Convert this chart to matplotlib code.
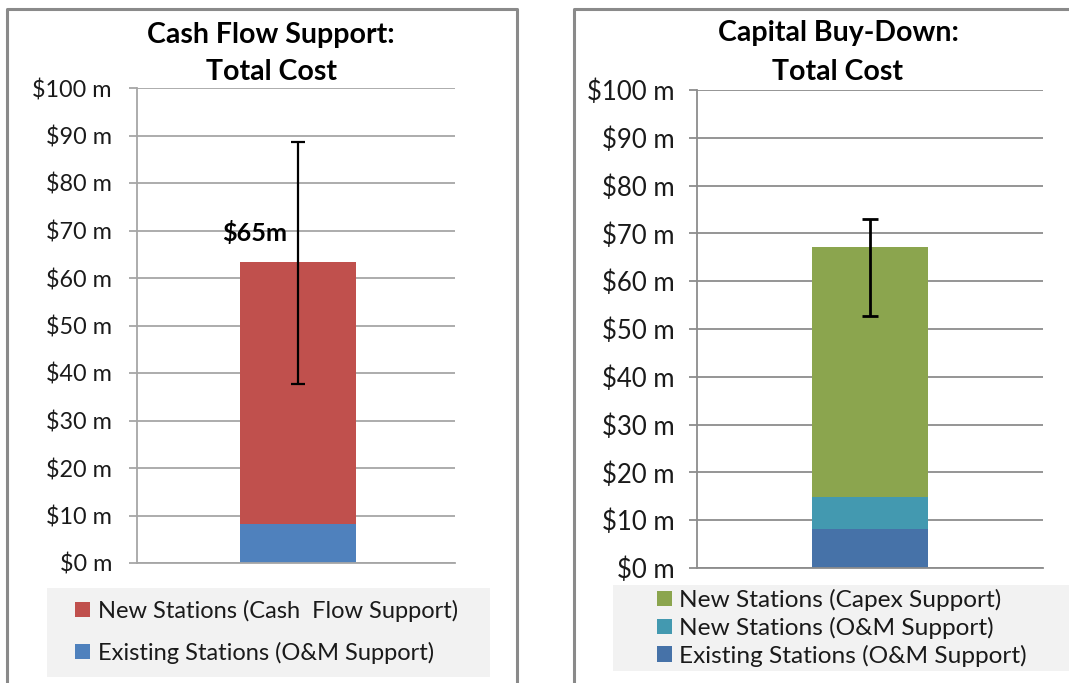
import matplotlib.pyplot as plt
from matplotlib.lines import Line2D
from matplotlib.patches import Rectangle

plt.rcParams['font.family'] = ['Lato', 'DejaVu Sans']

# valores en millones de dolares
cf_existing = [8.2]        # Existing Stations (O&M Support)
cf_new = [55.2]            # New Stations (Cash Flow Support)
cf_err = [[25.7], [25.2]]  # barra de error (abajo, arriba)
cf_label = "$65m"

cb_existing = [8.2]        # Existing Stations (O&M Support)
cb_new_om = [6.7]          # New Stations (O&M Support)
cb_new_capex = [52.3]      # New Stations (Capex Support)
cb_err = [[14.4], [5.8]]

yticks = list(range(0, 101, 10))
W, H = 1069, 683

fig = plt.figure(figsize=(W / 100, H / 100), dpi=100)


def fx(px):
    return px / W


def fy(py):
    return 1 - py / H


def estilo(ax, grid_color, size):
    ax.set_ylim(0, 100)
    ax.set_yticks(yticks)
    ax.set_yticklabels([f"${v} m" for v in yticks], fontsize=size, color="#1a1a1a")
    ax.set_xticks([])
    ax.yaxis.grid(True, color=grid_color, linewidth=1.3)
    ax.set_axisbelow(True)
    for s in ["top", "right"]:
        ax.spines[s].set_visible(False)
    ax.spines["left"].set_color(grid_color)
    ax.spines["left"].set_linewidth(1.3)
    ax.spines["bottom"].set_color(grid_color)
    ax.spines["bottom"].set_linewidth(1.3)
    ax.tick_params(axis="y", length=6, width=1.3, color=grid_color, pad=12)


# ---- panel izquierdo: Cash Flow Support
ax1 = fig.add_axes([fx(137), fy(563), fx(455 - 137), (563 - 88) / H])
x0 = [0]
b1 = ax1.bar(x0, cf_existing, width=0.365, color="#4f81bd")
b2 = ax1.bar(x0, cf_new, bottom=cf_existing, width=0.365, color="#c0504d")
tot1 = [a + b for a, b in zip(cf_existing, cf_new)]
ax1.errorbar(x0, tot1, yerr=cf_err, fmt="none", ecolor="black",
             elinewidth=1.6, capsize=5, capthick=1.6)
ax1.set_xlim(-0.506, 0.494)
estilo(ax1, "#a6a6a6", 16.8)
ax1.text(-0.135, 69.5, cf_label, fontsize=18.2, fontweight="bold",
         ha="center", va="center")

# ---- panel derecho: Capital Buy-Down
ax2 = fig.add_axes([fx(697), fy(568), fx(1043 - 697), (568 - 90) / H])
c1 = ax2.bar(x0, cb_existing, width=0.335, color="#4672a8")
c2 = ax2.bar(x0, cb_new_om, bottom=cb_existing, width=0.335, color="#4399b0")
base = [a + b for a, b in zip(cb_existing, cb_new_om)]
c3 = ax2.bar(x0, cb_new_capex, bottom=base, width=0.335, color="#8ba54e")
tot2 = [a + b for a, b in zip(base, cb_new_capex)]
ax2.errorbar(x0, tot2, yerr=cb_err, fmt="none", ecolor="black",
             elinewidth=2, capsize=5.5, capthick=2)
ax2.set_xlim(-0.5, 0.5)
estilo(ax2, "#8c8c8c", 18.5)
ax2.tick_params(axis="y", pad=10)

# titulos
tsize = 20.5
fig.text(fx(271), fy(35), "Cash Flow Support:", fontsize=tsize, fontweight="bold",
         ha="center", va="center")
fig.text(fx(271), fy(72), "Total Cost", fontsize=tsize, fontweight="bold",
         ha="center", va="center")
fig.text(fx(838), fy(33), "Capital Buy-Down:", fontsize=tsize, fontweight="bold",
         ha="center", va="center")
fig.text(fx(838), fy(72), "Total Cost", fontsize=tsize, fontweight="bold",
         ha="center", va="center")

# fondos de leyenda
fig.add_artist(Rectangle((fx(47), fy(677)), fx(490 - 47), (677 - 588) / H,
                         transform=fig.transFigure, facecolor="#f2f2f2",
                         edgecolor="none", zorder=0))
fig.add_artist(Rectangle((fx(613), fy(671)), fx(1069 - 613), (671 - 585) / H,
                         transform=fig.transFigure, facecolor="#f2f2f2",
                         edgecolor="none", zorder=0))

leg1 = fig.legend([b2, b1], ["New Stations (Cash  Flow Support)",
                             "Existing Stations (O&M Support)"],
                  loc="center left", bbox_to_anchor=(fx(75), fy(632)),
                  frameon=False, fontsize=17, handlelength=0.62, handleheight=0.62,
                  handletextpad=0.35, labelspacing=0.85, borderaxespad=0,
                  borderpad=0, labelcolor="#1a1a1a")
leg2 = fig.legend([c3, c2, c1], ["New Stations (Capex Support)",
                                 "New Stations (O&M Support)",
                                 "Existing Stations (O&M Support)"],
                  loc="center left", bbox_to_anchor=(fx(657), fy(628)),
                  frameon=False, fontsize=17.6, handlelength=0.6, handleheight=0.6,
                  handletextpad=0.3, labelspacing=0.23, borderaxespad=0,
                  borderpad=0, labelcolor="#1a1a1a")

# marcos de los paneles
gris = "#8a8a8a"
fig.add_artist(Line2D([fx(7), fx(7), fx(517), fx(517)], [0, fy(9), fy(9), 0],
                      transform=fig.transFigure, color=gris, linewidth=2.2))
fig.add_artist(Line2D([fx(574), fx(574), 1], [0, fy(9), fy(9)],
                      transform=fig.transFigure, color=gris, linewidth=2.2))

fig.savefig("out.png", dpi=100)
